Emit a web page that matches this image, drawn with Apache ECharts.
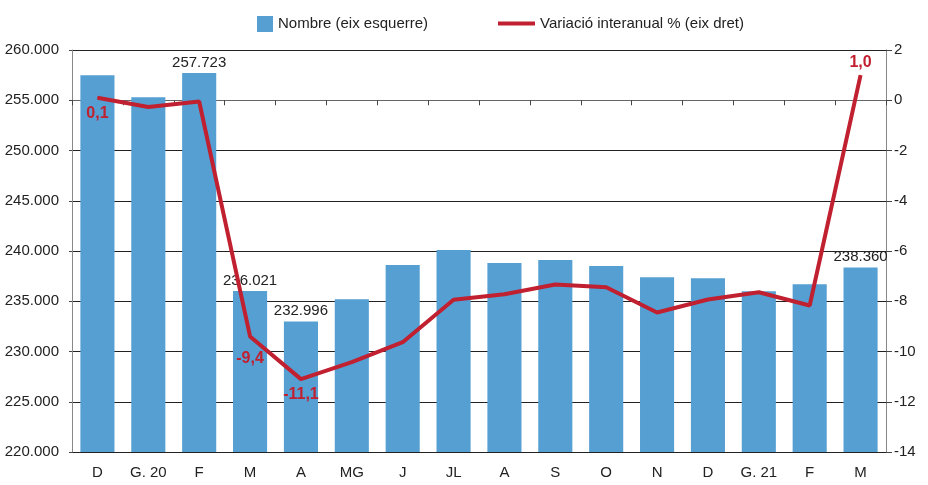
<!DOCTYPE html>
<html>
<head>
<meta charset="utf-8">
<script src="https://cdn.jsdelivr.net/npm/echarts@6/dist/echarts.min.js"></script>
<style>
  html, body { margin: 0; padding: 0; background: #fff; }
  #chart { width: 928px; height: 485px; }
</style>
</head>
<body>
<div id="chart"></div>
<script>
// categories and values
const months = ['D', 'G. 20', 'F', 'M', 'A', 'MG', 'J', 'JL', 'A', 'S', 'O', 'N', 'D', 'G. 21', 'F', 'M'];
const nombre = [257500, 255300, 257723, 236021, 232996, 235200, 238600, 240100, 238800, 239100, 238500, 237400, 237300, 236000, 236700, 238360];
const variacio = [0.1, -0.27, -0.05, -9.4, -11.1, -10.42, -9.63, -7.94, -7.72, -7.33, -7.44, -8.45, -7.93, -7.64, -8.17, 1.0];
const barLabelIdx = [2, 3, 4, 15];
const lineLabelIdx = [0, 3, 4, 15];
const leftTicks = { min: 220000, max: 260000, step: 5000 };
const rightTicks = { min: -14, max: 2, step: 2 };

const font = '"Liberation Sans Narrow", "Liberation Sans", Arial, sans-serif';
const blue = '#559fd3';
const red = '#c0202f';

function thousands(v) {
    return String(Math.round(v)).replace(/\B(?=(\d{3})+(?!\d))/g, '.');
}

const barData = nombre.map((v, i) => {
    if (barLabelIdx.indexOf(i) < 0) return v;
    return { value: v, label: { show: true } };
});

// label placement per point: 0,1 / -9,4 / -11,1 below, 1,0 above
const lineLabelDist = { 0: 7, 3: 14, 4: 7, 15: 4 };
const lineData = variacio.map((v, i) => {
    if (lineLabelIdx.indexOf(i) < 0) return v;
    const pos = i === 15 ? 'top' : 'bottom';
    return { value: v, label: { show: true, position: pos, distance: lineLabelDist[i] } };
});

const chart = echarts.init(document.getElementById('chart'));
chart.setOption({
    animation: false,
    textStyle: { fontFamily: font },
    legend: [
        {
            top: 11,
            left: 252,
            itemWidth: 16,
            itemHeight: 16,
            icon: 'rect',
            textStyle: { fontSize: 15, color: '#222', fontFamily: font },
            data: ['Nombre (eix esquerre)']
        },
        {
            top: 11,
            left: 493,
            itemWidth: 37,
            itemHeight: 4,
            icon: 'rect',
            textStyle: { fontSize: 15, color: '#222', fontFamily: font },
            data: ['Variació interanual % (eix dret)']
        }
    ],
    grid: { left: 72, right: 42, top: 50, bottom: 33 },
    xAxis: {
        type: 'category',
        data: months,
        boundaryGap: true,
        axisLine: { lineStyle: { color: '#666', width: 1 } },
        axisTick: { show: true, length: 5, lineStyle: { color: '#444' } },
        axisLabel: { fontSize: 15, color: '#222', margin: 13, fontFamily: font }
    },
    yAxis: [
        {
            type: 'value',
            min: leftTicks.min,
            max: leftTicks.max,
            interval: leftTicks.step,
            axisLine: { show: true, lineStyle: { color: '#888' } },
            axisTick: { show: true, length: 3, lineStyle: { color: '#444' } },
            splitLine: { lineStyle: { color: '#222', width: 1 } },
            axisLabel: { fontSize: 15, color: '#222', margin: 13, formatter: thousands, fontFamily: font }
        },
        {
            type: 'value',
            min: rightTicks.min,
            max: rightTicks.max,
            interval: rightTicks.step,
            axisLine: { show: true, lineStyle: { color: '#888' } },
            axisTick: { show: true, length: 6, lineStyle: { color: '#444' } },
            splitLine: { show: false },
            axisLabel: { fontSize: 15, color: '#222', margin: 8, fontFamily: font }
        }
    ],
    series: [
        {
            name: 'Nombre (eix esquerre)',
            type: 'bar',
            data: barData,
            barCategoryGap: '33%',
            itemStyle: { color: blue },
            label: {
                show: false,
                position: 'top',
                distance: 3,
                fontSize: 15,
                color: '#222',
                fontFamily: font,
                formatter: p => thousands(p.value)
            }
        },
        {
            name: 'Variació interanual % (eix dret)',
            type: 'line',
            yAxisIndex: 1,
            data: lineData,
            symbol: 'circle',
            symbolSize: 1,
            showSymbol: true,
            lineStyle: { color: red, width: 4 },
            itemStyle: { color: red },
            label: {
                show: false,
                fontSize: 16,
                fontWeight: 'bold',
                color: red,
                fontFamily: font,
                formatter: p => p.value.toFixed(1).replace('.', ',')
            }
        }
    ]
});
</script>
</body>
</html>
